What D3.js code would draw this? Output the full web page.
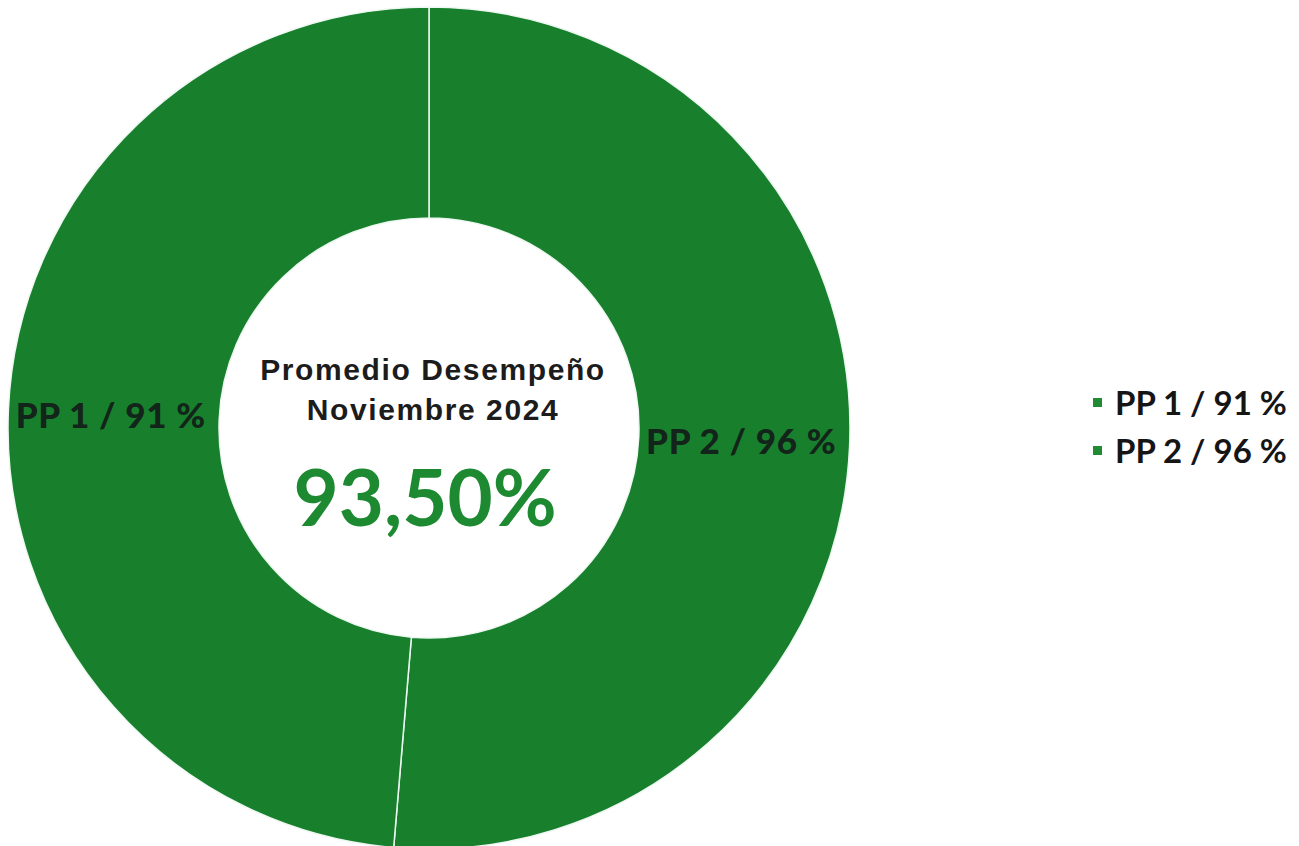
<!DOCTYPE html>
<meta charset="utf-8" />
<style>
  body {
    margin: 0px;
    padding: 0px;
    background: #fff;
  }
  svg {
    display: block;
  }
  .slice-label {
    font-family: Lato, "Open Sans", sans-serif;
    font-weight: 900;
    fill: #13241a;
  }
  .legend text {
    font-family: Lato, "Open Sans", sans-serif;
    font-weight: 700;
    fill: #151515;
  }
</style>

<svg width="1299" height="846"></svg>

<script src="https://cdnjs.cloudflare.com/ajax/libs/d3/7.8.5/d3.min.js"></script>
<script>
  // data
  const categories = ["PP 1", "PP 2"];
  const values = [91, 96];
  const average = "93,50%";
  const titleLines = ["Promedio Desempeño", "Noviembre 2024"];

  const svg = d3.select("svg"),
    width = +svg.attr("width"),
    height = +svg.attr("height");

  const cx = 429,
    cy = 428,
    outerR = 421,
    innerR = 210;

  const green = "#18802d";

  const slices = categories.map((c, i) => ({ name: c, value: values[i], label: c + " / " + values[i] + " %" }));

  // PP 2 runs clockwise from 12 o'clock, PP 1 fills the rest
  const pie = d3
    .pie()
    .value((d) => d.value)
    .sort(null);

  const arcs = pie(slices.slice().reverse());

  const arc = d3.arc().innerRadius(innerR).outerRadius(outerR);

  const g = svg.append("g").attr("transform", `translate(${cx},${cy})`);

  g.selectAll("path")
    .data(arcs)
    .enter()
    .append("path")
    .attr("d", arc)
    .attr("fill", green)
    .attr("stroke", "#eef8f2")
    .attr("stroke-width", 1.5);

  g.selectAll("text.slice-label")
    .data(arcs)
    .enter()
    .append("text")
    .attr("class", "slice-label")
    .attr("transform", (d) => {
      const c = arc.centroid(d);
      return `translate(${c[0] - 3},${c[1] + 13})`;
    })
    .attr("text-anchor", "middle")
    .attr("font-size", 35)
    .attr("letter-spacing", 0.7)
    .text((d) => d.data.label);

  // centre text
  g.selectAll("text.title")
    .data(titleLines)
    .enter()
    .append("text")
    .attr("class", "title")
    .attr("x", 4)
    .attr("y", (d, i) => -48 + i * 40)
    .attr("text-anchor", "middle")
    .attr("font-family", "Liberation Sans, Arial, sans-serif")
    .attr("font-weight", 700)
    .attr("font-size", 30)
    .attr("letter-spacing", 1.6)
    .attr("fill", "#1c1c1c")
    .text((d) => d);

  g.append("text")
    .attr("x", -4)
    .attr("y", 98)
    .attr("text-anchor", "middle")
    .attr("font-family", "Lato, 'Open Sans', sans-serif")
    .attr("font-weight", 700)
    .attr("font-size", 78)
    .attr("fill", "#1d8a32")
    .text(average);

  // legend
  const legend = svg
    .append("g")
    .attr("class", "legend")
    .attr("transform", "translate(1092,0)");

  const item = legend
    .selectAll("g")
    .data(slices)
    .enter()
    .append("g")
    .attr("transform", (d, i) => `translate(0,${415 + i * 48})`);

  item
    .append("rect")
    .attr("x", 1)
    .attr("y", -17)
    .attr("width", 9)
    .attr("height", 9)
    .attr("fill", "#1f8b33");

  item
    .append("text")
    .attr("x", 23)
    .attr("y", 0)
    .attr("font-size", 33)
    .text((d) => d.label);
</script>
